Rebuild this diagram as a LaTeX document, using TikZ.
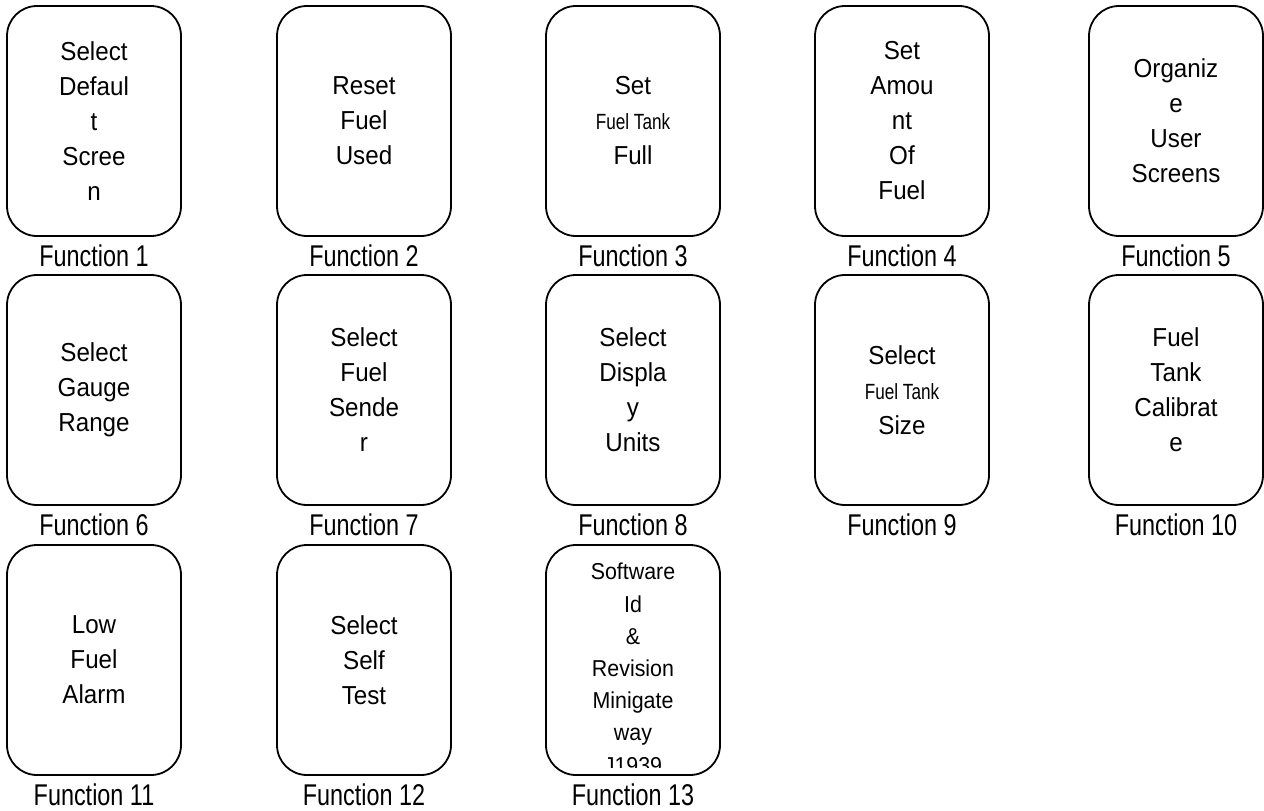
\documentclass[tikz,border=0pt]{standalone}
\usepackage{fontspec}
\newfontfamily\boxfont[FakeStretch=0.93]{Liberation Sans}
\newfontfamily\narrowfont[FakeStretch=0.78]{Liberation Sans}
\newcommand{\ft}{{\narrowfont\fontsize{22}{35}\selectfont Fuel Tank}}
\begin{document}
\begin{tikzpicture}[x=1pt,y=-1pt,
  fbox/.style={draw=black,line width=1.8pt,rounded corners=30pt,minimum width=174pt,minimum height=230pt,inner sep=0pt,align=center,
    font=\boxfont\fontsize{26}{35}\selectfont},
  flabel/.style={inner sep=0pt,font=\narrowfont\fontsize{30}{36}\selectfont}]
\useasboundingbox (0,0) rectangle (1264,811);
% row 1
\node[fbox] (b1) at (94,121) {Select\\Defaul\\t\\Scree\\n};
\node[fbox] (b2) at (364,121) {Reset\\Fuel\\Used};
\node[fbox] (b3) at (633,121) {Set\\\ft\\Full};
\node[fbox] (b4) at (902,121) {Set\\Amou\\nt\\Of\\Fuel};
\node[fbox] (b5) at (1176,121) {Organiz\\e\\User\\Screens};
% row 2
\node[fbox] (b6) at (94,390) {Select\\Gauge\\Range};
\node[fbox] (b7) at (364,390) {Select\\Fuel\\Sende\\r};
\node[fbox] (b8) at (633,390) {Select\\Displa\\y\\Units};
\node[fbox] (b9) at (902,390) {Select\\\ft\\Size};
\node[fbox] (b10) at (1176,390) {Fuel\\Tank\\Calibrat\\e};
% row 3
\node[fbox] (b11) at (94,660) {Low\\Fuel\\Alarm};
\node[fbox] (b12) at (364,660) {Select\\Self\\Test};
\node[fbox] (b13) at (633,660) {};
\begin{scope}
\clip (546,545) rectangle (720,767);
\node[anchor=north,align=center,inner sep=0pt,font=\boxfont\fontsize{23}{32.2}\selectfont] (t13) at (633,563) {Software\\Id\\\&\\Revision\\Minigate\\way\\J1939};
\end{scope}
% labels
\node[flabel] (l1) at (94,256) {Function 1};
\node[flabel] (l2) at (364,256) {Function 2};
\node[flabel] (l3) at (633,256) {Function 3};
\node[flabel] (l4) at (902,256) {Function 4};
\node[flabel] (l5) at (1176,256) {Function 5};
\node[flabel] (l6) at (94,525) {Function 6};
\node[flabel] (l7) at (364,525) {Function 7};
\node[flabel] (l8) at (633,525) {Function 8};
\node[flabel] (l9) at (902,525) {Function 9};
\node[flabel] (l10) at (1176,525) {Function 10};
\node[flabel] (l11) at (94,795) {Function 11};
\node[flabel] (l12) at (364,795) {Function 12};
\node[flabel] (l13) at (633,795) {Function 13};
\end{tikzpicture}
\end{document}
